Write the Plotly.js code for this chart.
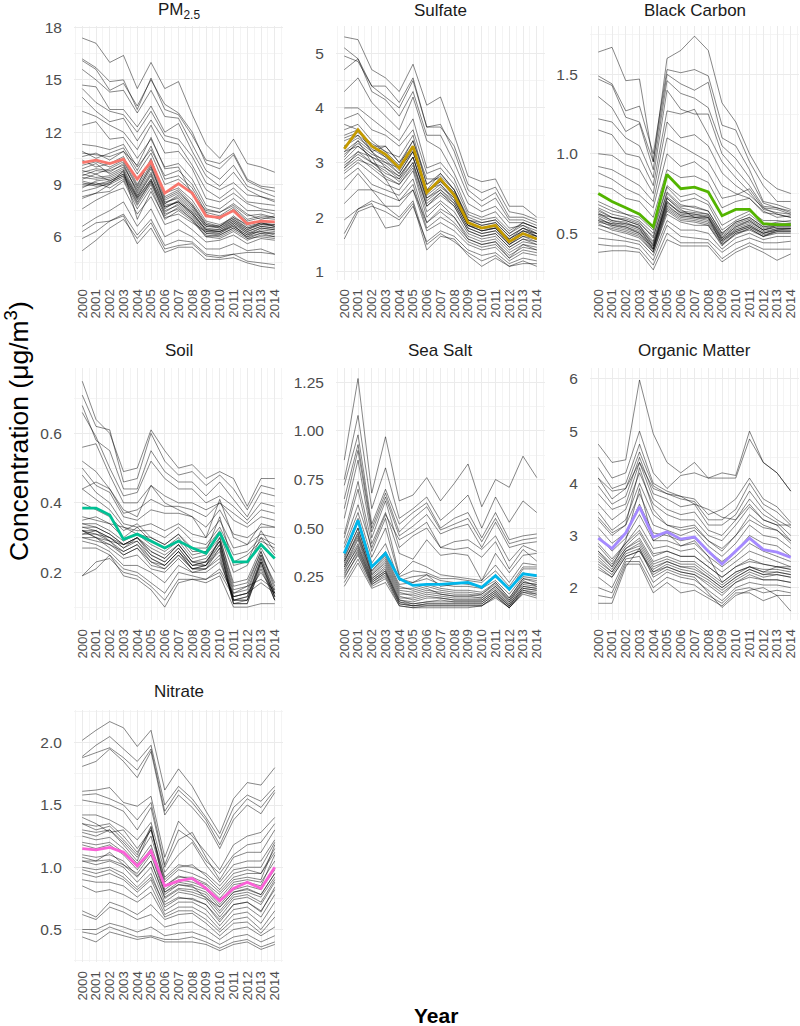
<!DOCTYPE html>
<html>
<head>
<meta charset="utf-8">
<script src="https://cdn.plot.ly/plotly-3.0.1.min.js"></script>
<style>
  html, body { margin: 0; padding: 0; background: #ffffff; }
  #chart { width: 800px; height: 1026px; }
</style>
</head>
<body>
<div id="chart"></div>
<script>
// ---------------- DATA ----------------
const years = [2000, 2001, 2002, 2003, 2004, 2005, 2006, 2007, 2008, 2009, 2010, 2011, 2012, 2013, 2014];
const yearLabels = years.map(String);

const panelNames = ["PM<sub>2.5</sub>", "Sulfate", "Black Carbon", "Soil", "Sea Salt", "Organic Matter", "Nitrate"];
const meanColors = ["#F8766D", "#C49A00", "#53B400", "#00C094", "#00B6EB", "#A58AFF", "#FB61D7"];

const pm25Mean = [10.25, 10.4, 10.2, 10.45, 9.3, 10.3, 8.5, 9.05, 8.5, 7.2, 7.1, 7.5, 6.75, 6.9, 6.85];
const pm25Sites = [
  [17.4, 17.1, 16.0, 16.4, 14.5, 16.0, 14.5, 14.9, 13.0, 11.3, 10.5, 11.6, 10.2, 10.0, 9.7],
  [16.2, 15.7, 14.9, 15.0, 13.3, 15.1, 13.3, 13.0, 11.8, 10.4, 10.2, 10.8, 9.3, 8.9, 8.8],
  [16.1, 15.6, 14.4, 14.8, 13.5, 15.0, 13.6, 13.1, 12.0, 10.2, 9.9, 10.7, 9.2, 8.8, 8.6],
  [15.6, 15.0, 14.3, 14.4, 13.1, 14.4, 12.9, 12.8, 11.3, 9.8, 9.3, 10.1, 8.9, 8.6, 8.3],
  [14.7, 14.6, 13.3, 13.3, 12.3, 13.5, 12.0, 12.5, 10.9, 9.5, 8.9, 9.7, 8.7, 8.3, 8.0],
  [14.5, 13.7, 13.2, 13.0, 12.0, 13.2, 11.8, 11.6, 10.6, 9.1, 8.7, 9.1, 8.4, 8.3, 8.1],
  [14.0, 13.2, 12.6, 12.8, 11.5, 12.7, 11.5, 11.3, 10.1, 8.7, 8.2, 8.8, 8.0, 7.9, 7.8],
  [13.2, 12.9, 12.4, 12.0, 11.0, 12.4, 10.8, 10.9, 9.9, 8.2, 8.0, 8.5, 7.9, 7.6, 7.5],
  [12.4, 12.6, 11.6, 11.7, 10.5, 11.6, 10.0, 10.2, 9.3, 7.8, 7.6, 8.2, 7.5, 7.5, 7.3],
  [11.3, 11.2, 11.0, 11.3, 10.0, 11.0, 9.5, 9.8, 9.0, 7.6, 7.4, 7.8, 7.2, 7.3, 7.1],
  [10.8, 10.7, 10.6, 10.9, 9.6, 10.8, 9.0, 9.3, 8.6, 7.3, 7.0, 7.6, 6.9, 7.1, 7.0],
  [10.4, 10.0, 10.2, 10.6, 9.0, 10.4, 8.5, 8.8, 8.1, 6.9, 6.7, 7.1, 6.7, 6.9, 6.8],
  [9.9, 10.2, 9.6, 10.0, 8.7, 10.0, 8.1, 8.5, 7.8, 6.7, 6.5, 7.0, 6.4, 6.8, 6.6],
  [9.6, 9.4, 9.5, 9.9, 8.4, 9.7, 7.9, 8.3, 7.6, 6.5, 6.4, 6.8, 6.3, 6.6, 6.5],
  [9.3, 9.6, 9.2, 9.6, 8.2, 9.3, 7.6, 8.1, 7.4, 6.4, 6.3, 6.6, 6.1, 6.5, 6.4],
  [9.1, 8.9, 9.0, 9.4, 8.0, 9.1, 7.4, 7.9, 7.2, 6.2, 6.1, 6.5, 6.0, 6.4, 6.3],
  [8.8, 9.2, 9.3, 9.7, 8.3, 9.5, 7.8, 8.0, 7.3, 6.3, 6.3, 6.8, 6.2, 6.3, 6.1],
  [9.0, 9.1, 8.8, 9.3, 7.8, 9.0, 7.2, 7.7, 7.0, 6.1, 6.0, 6.4, 5.9, 6.2, 6.0],
  [8.3, 8.5, 8.6, 9.2, 7.6, 8.8, 7.0, 7.5, 6.9, 6.0, 5.9, 6.3, 5.8, 6.1, 6.0],
  [7.6, 8.1, 8.5, 8.8, 7.3, 8.3, 6.7, 7.0, 6.4, 5.7, 5.8, 6.1, 5.6, 5.9, 5.8],
  [6.6, 7.1, 7.5, 8.0, 6.6, 7.6, 6.0, 6.4, 6.0, 5.3, 5.3, 5.6, 5.2, 5.3, 5.0],
  [6.3, 6.8, 6.9, 7.3, 6.1, 7.0, 5.5, 5.8, 5.7, 5.0, 4.9, 5.0, 4.6, 4.5, 4.4],
  [5.9, 6.3, 6.9, 7.2, 5.6, 6.5, 5.1, 5.4, 5.4, 4.7, 4.7, 4.8, 4.5, 4.3, 4.2],
  [5.2, 5.8, 6.5, 7.0, 5.9, 6.8, 5.3, 5.5, 5.6, 4.9, 4.8, 5.0, 5.1, 5.1, 5.0],
  [10.6, 10.8, 10.4, 10.9, 10.1, 11.7, 9.9, 10.0, 8.4, 7.5, 7.4, 7.9, 7.3, 7.0, 7.2],
  [8.2, 8.5, 9.0, 9.8, 7.0, 8.6, 7.1, 7.3, 6.8, 6.3, 6.2, 6.7, 5.9, 6.0, 5.9],
  [9.5, 9.8, 9.7, 10.2, 8.5, 9.9, 8.0, 8.2, 7.5, 6.6, 6.6, 7.0, 6.5, 6.7, 6.7],
  [10.1, 10.3, 10.0, 10.4, 8.9, 10.5, 8.3, 8.7, 7.9, 6.8, 6.6, 7.2, 6.6, 6.8, 6.7],
  [9.7, 9.9, 9.8, 10.1, 8.6, 10.1, 7.9, 8.4, 7.7, 6.6, 6.5, 6.9, 6.4, 6.7, 6.6],
  [9.4, 9.3, 9.4, 9.8, 8.3, 9.6, 7.7, 8.0, 7.4, 6.4, 6.3, 6.7, 6.2, 6.5, 6.4],
  [9.2, 9.0, 9.1, 9.5, 8.1, 9.2, 7.5, 7.8, 7.1, 6.2, 6.2, 6.6, 6.1, 6.3, 6.2],
  [8.9, 9.0, 9.2, 9.6, 8.2, 9.3, 7.7, 8.0, 7.3, 6.4, 6.4, 6.9, 6.3, 6.6, 6.5],
  [10.9, 10.5, 10.8, 11.1, 9.8, 11.2, 9.3, 9.5, 8.8, 7.4, 7.2, 7.7, 7.0, 7.2, 7.1],
  [8.6, 8.8, 9.1, 9.5, 7.9, 9.2, 7.3, 7.6, 7.0, 6.0, 6.1, 6.5, 6.0, 6.2, 6.2],
  [9.8, 9.6, 9.9, 10.3, 8.8, 10.2, 8.2, 8.6, 7.8, 6.7, 6.6, 7.1, 6.5, 6.8, 6.6]
];

const sulfateMean = [3.25, 3.6, 3.3, 3.15, 2.9, 3.3, 2.45, 2.7, 2.4, 1.9, 1.8, 1.85, 1.55, 1.7, 1.6];
const sulfateSites = [
  [5.3, 5.25, 4.7, 4.55, 4.3, 4.8, 4.05, 4.2, 3.5, 2.75, 2.65, 2.7, 2.2, 2.2, 2.0],
  [5.1, 4.9, 4.4, 4.4, 4.1, 4.55, 3.65, 3.65, 3.3, 2.6, 2.45, 2.55, 2.1, 2.05, 1.95],
  [4.95, 4.85, 4.4, 4.2, 4.0, 4.5, 3.65, 3.7, 3.2, 2.5, 2.3, 2.45, 2.0, 2.0, 1.9],
  [4.7, 4.9, 4.3, 4.15, 3.85, 4.3, 3.5, 3.5, 3.0, 2.4, 2.2, 2.35, 1.95, 1.95, 1.85],
  [4.3, 4.55, 4.1, 3.85, 3.6, 4.2, 3.4, 3.25, 2.8, 2.25, 2.1, 2.2, 1.9, 1.9, 1.8],
  [4.0, 4.0, 3.8, 3.6, 3.4, 3.8, 2.9, 3.0, 2.7, 2.1, 2.0, 2.1, 1.8, 1.85, 1.75],
  [3.8, 3.9, 3.6, 3.5, 3.3, 3.6, 2.8, 2.9, 2.6, 2.05, 1.95, 2.0, 1.75, 1.9, 1.8],
  [3.6, 3.7, 3.4, 3.2, 3.1, 3.5, 2.6, 2.8, 2.5, 2.0, 1.9, 1.95, 1.7, 1.85, 1.7],
  [3.4, 3.5, 3.3, 3.3, 3.0, 3.4, 2.7, 2.7, 2.45, 1.95, 1.85, 1.9, 1.65, 1.8, 1.65],
  [3.3, 3.5, 3.2, 3.0, 2.9, 3.3, 2.5, 2.65, 2.4, 1.9, 1.8, 1.85, 1.6, 1.75, 1.7],
  [3.2, 3.3, 3.1, 3.0, 2.8, 3.2, 2.4, 2.6, 2.3, 1.85, 1.8, 1.8, 1.55, 1.7, 1.65],
  [3.1, 3.4, 3.2, 2.9, 2.75, 3.1, 2.3, 2.5, 2.25, 1.8, 1.7, 1.75, 1.5, 1.65, 1.6],
  [3.0, 3.2, 3.0, 2.8, 2.7, 3.0, 2.2, 2.45, 2.2, 1.75, 1.65, 1.7, 1.45, 1.6, 1.55],
  [2.9, 3.1, 2.9, 2.7, 2.6, 2.9, 2.1, 2.3, 2.1, 1.7, 1.6, 1.65, 1.4, 1.55, 1.5],
  [2.8, 3.0, 2.8, 2.6, 2.5, 2.85, 2.0, 2.25, 2.0, 1.65, 1.55, 1.6, 1.35, 1.5, 1.45],
  [2.7, 2.9, 2.6, 2.5, 2.4, 2.7, 1.9, 2.1, 1.9, 1.6, 1.5, 1.55, 1.3, 1.45, 1.4],
  [2.5, 2.8, 2.5, 2.4, 2.3, 2.6, 1.8, 2.0, 1.85, 1.55, 1.45, 1.5, 1.25, 1.4, 1.35],
  [2.25, 2.5, 2.5, 2.2, 2.2, 2.5, 1.75, 1.9, 1.75, 1.5, 1.4, 1.45, 1.2, 1.35, 1.3],
  [1.95, 2.15, 2.25, 1.8, 1.85, 2.2, 1.55, 1.75, 1.65, 1.4, 1.3, 1.35, 1.15, 1.25, 1.2],
  [1.6, 2.1, 2.2, 2.1, 1.95, 2.25, 1.4, 1.65, 1.6, 1.3, 1.1, 1.25, 1.1, 1.2, 1.1],
  [1.7, 2.15, 2.3, 2.2, 2.0, 2.3, 1.5, 1.7, 1.55, 1.35, 1.2, 1.3, 1.1, 1.15, 1.15],
  [3.7, 3.6, 3.2, 3.3, 3.0, 3.3, 2.5, 2.8, 2.5, 1.95, 1.9, 1.95, 1.7, 1.9, 1.8],
  [3.5, 3.6, 3.3, 3.1, 2.9, 3.2, 2.45, 2.7, 2.45, 1.9, 1.8, 1.85, 1.6, 1.8, 1.7],
  [3.2, 3.4, 3.0, 2.9, 2.7, 3.1, 2.35, 2.55, 2.35, 1.85, 1.75, 1.8, 1.55, 1.75, 1.65],
  [2.9, 3.2, 3.1, 2.7, 2.3, 2.5, 1.9, 2.15, 2.0, 1.6, 1.5, 1.55, 1.25, 1.5, 1.4],
  [3.3, 3.45, 3.25, 3.1, 2.85, 3.25, 2.45, 2.65, 2.4, 1.9, 1.8, 1.85, 1.6, 1.75, 1.65],
  [3.05, 3.3, 3.1, 2.95, 2.75, 3.1, 2.35, 2.5, 2.3, 1.85, 1.75, 1.8, 1.55, 1.7, 1.6],
  [2.95, 3.15, 3.0, 2.85, 2.65, 3.0, 2.25, 2.45, 2.25, 1.8, 1.7, 1.75, 1.5, 1.65, 1.55],
  [3.15, 3.35, 3.15, 3.05, 2.8, 3.2, 2.5, 2.6, 2.35, 1.85, 1.75, 1.8, 1.5, 1.7, 1.6],
  [2.85, 3.05, 2.95, 2.75, 2.6, 2.95, 2.2, 2.4, 2.2, 1.75, 1.65, 1.7, 1.45, 1.6, 1.5],
  [3.45, 3.55, 3.35, 3.2, 2.95, 3.4, 2.6, 2.75, 2.5, 1.95, 1.85, 1.9, 1.65, 1.8, 1.7]
];

const bcMean = [0.75, 0.70, 0.66, 0.62, 0.54, 0.87, 0.78, 0.79, 0.76, 0.61, 0.65, 0.65, 0.56, 0.555, 0.555];
const bcSites = [
  [1.64, 1.67, 1.46, 1.47, 0.95, 1.60, 1.65, 1.74, 1.65, 1.32, 1.20, 1.00, 0.85, 0.78, 0.75],
  [1.49, 1.44, 1.27, 1.30, 1.00, 1.53, 1.51, 1.53, 1.49, 1.18, 1.15, 0.95, 0.80, 0.70, 0.70],
  [1.47, 1.43, 1.23, 1.20, 0.95, 1.50, 1.44, 1.40, 1.45, 1.10, 1.05, 0.90, 0.70, 0.68, 0.65],
  [1.36, 1.29, 1.14, 1.19, 0.90, 1.46, 1.38, 1.35, 1.29, 1.05, 0.97, 0.85, 0.69, 0.66, 0.63],
  [1.22, 1.20, 1.10, 1.05, 0.85, 1.40, 1.28, 1.25, 1.25, 1.00, 0.90, 0.80, 0.67, 0.66, 0.64],
  [1.15, 1.12, 1.00, 0.98, 0.80, 1.27, 1.25, 1.28, 1.12, 0.95, 0.85, 0.76, 0.65, 0.63, 0.62],
  [1.00, 0.99, 0.93, 0.90, 0.75, 1.20, 1.10, 1.12, 1.05, 0.88, 0.80, 0.74, 0.66, 0.62, 0.60],
  [0.92, 0.90, 0.85, 0.80, 0.70, 1.10, 1.05, 1.00, 0.95, 0.80, 0.75, 0.72, 0.64, 0.60, 0.61],
  [0.88, 0.84, 0.78, 0.74, 0.66, 1.00, 0.92, 0.95, 0.88, 0.72, 0.74, 0.78, 0.66, 0.65, 0.62],
  [0.80, 0.78, 0.72, 0.70, 0.60, 0.90, 0.85, 0.86, 0.82, 0.66, 0.70, 0.72, 0.63, 0.62, 0.60],
  [0.68, 0.64, 0.62, 0.60, 0.52, 0.80, 0.73, 0.75, 0.70, 0.55, 0.60, 0.64, 0.58, 0.58, 0.57],
  [0.65, 0.60, 0.59, 0.56, 0.48, 0.75, 0.67, 0.67, 0.64, 0.50, 0.57, 0.60, 0.54, 0.55, 0.55],
  [0.63, 0.58, 0.56, 0.54, 0.44, 0.72, 0.64, 0.63, 0.62, 0.48, 0.55, 0.58, 0.52, 0.54, 0.54],
  [0.61, 0.57, 0.55, 0.52, 0.42, 0.70, 0.62, 0.61, 0.60, 0.46, 0.53, 0.56, 0.51, 0.53, 0.53],
  [0.60, 0.55, 0.54, 0.50, 0.40, 0.67, 0.61, 0.60, 0.58, 0.45, 0.52, 0.55, 0.50, 0.52, 0.52],
  [0.58, 0.54, 0.52, 0.49, 0.39, 0.65, 0.59, 0.58, 0.56, 0.44, 0.51, 0.54, 0.49, 0.51, 0.51],
  [0.56, 0.52, 0.50, 0.47, 0.38, 0.62, 0.57, 0.55, 0.55, 0.42, 0.50, 0.53, 0.48, 0.50, 0.50],
  [0.53, 0.50, 0.47, 0.45, 0.36, 0.58, 0.52, 0.52, 0.50, 0.40, 0.47, 0.50, 0.46, 0.48, 0.48],
  [0.47, 0.46, 0.45, 0.43, 0.33, 0.55, 0.48, 0.47, 0.46, 0.38, 0.44, 0.47, 0.44, 0.44, 0.45],
  [0.43, 0.42, 0.42, 0.40, 0.30, 0.50, 0.44, 0.44, 0.44, 0.34, 0.40, 0.44, 0.40, 0.40, 0.40],
  [0.38, 0.39, 0.39, 0.38, 0.27, 0.46, 0.42, 0.42, 0.42, 0.32, 0.38, 0.42, 0.38, 0.33, 0.37],
  [0.62, 0.60, 0.58, 0.55, 0.42, 0.69, 0.63, 0.62, 0.60, 0.47, 0.54, 0.58, 0.52, 0.55, 0.56],
  [0.58, 0.56, 0.56, 0.53, 0.40, 0.72, 0.65, 0.60, 0.60, 0.43, 0.50, 0.52, 0.48, 0.52, 0.53],
  [0.70, 0.66, 0.62, 0.58, 0.50, 0.79, 0.70, 0.72, 0.68, 0.52, 0.58, 0.62, 0.55, 0.57, 0.58],
  [0.64, 0.60, 0.58, 0.55, 0.45, 0.73, 0.66, 0.64, 0.62, 0.49, 0.56, 0.59, 0.53, 0.55, 0.55],
  [0.62, 0.58, 0.57, 0.53, 0.43, 0.70, 0.63, 0.62, 0.61, 0.47, 0.54, 0.57, 0.52, 0.54, 0.54],
  [0.59, 0.56, 0.54, 0.51, 0.41, 0.68, 0.61, 0.60, 0.59, 0.46, 0.52, 0.55, 0.50, 0.53, 0.53],
  [0.57, 0.55, 0.53, 0.50, 0.40, 0.66, 0.60, 0.59, 0.57, 0.45, 0.51, 0.54, 0.50, 0.52, 0.52],
  [0.66, 0.62, 0.60, 0.57, 0.47, 0.76, 0.68, 0.66, 0.64, 0.50, 0.57, 0.60, 0.54, 0.56, 0.56],
  [0.55, 0.53, 0.51, 0.48, 0.38, 0.64, 0.58, 0.57, 0.55, 0.43, 0.49, 0.53, 0.48, 0.51, 0.51]
];

const soilMean = [0.385, 0.385, 0.365, 0.295, 0.31, 0.29, 0.27, 0.29, 0.27, 0.255, 0.315, 0.23, 0.23, 0.28, 0.24];
const soilSites = [
  [0.75, 0.64, 0.60, 0.49, 0.50, 0.61, 0.55, 0.50, 0.51, 0.47, 0.49, 0.47, 0.39, 0.47, 0.47],
  [0.71, 0.62, 0.61, 0.46, 0.47, 0.60, 0.52, 0.48, 0.49, 0.45, 0.48, 0.44, 0.38, 0.45, 0.44],
  [0.68, 0.58, 0.55, 0.44, 0.44, 0.55, 0.49, 0.46, 0.46, 0.42, 0.46, 0.41, 0.36, 0.43, 0.42],
  [0.66, 0.59, 0.50, 0.42, 0.43, 0.52, 0.47, 0.44, 0.44, 0.40, 0.42, 0.39, 0.35, 0.40, 0.39],
  [0.56, 0.57, 0.48, 0.40, 0.40, 0.45, 0.42, 0.40, 0.40, 0.38, 0.40, 0.37, 0.34, 0.38, 0.37],
  [0.52, 0.49, 0.44, 0.37, 0.38, 0.41, 0.39, 0.39, 0.38, 0.36, 0.40, 0.35, 0.33, 0.36, 0.35],
  [0.50, 0.45, 0.43, 0.36, 0.35, 0.38, 0.37, 0.37, 0.36, 0.33, 0.38, 0.31, 0.30, 0.33, 0.33],
  [0.48, 0.43, 0.40, 0.34, 0.33, 0.34, 0.32, 0.34, 0.31, 0.30, 0.35, 0.27, 0.28, 0.31, 0.30],
  [0.44, 0.41, 0.38, 0.33, 0.32, 0.32, 0.30, 0.33, 0.29, 0.28, 0.33, 0.25, 0.26, 0.30, 0.28],
  [0.40, 0.38, 0.36, 0.32, 0.34, 0.30, 0.28, 0.31, 0.27, 0.27, 0.32, 0.23, 0.25, 0.29, 0.27],
  [0.36, 0.35, 0.34, 0.30, 0.33, 0.29, 0.27, 0.30, 0.25, 0.26, 0.31, 0.20, 0.22, 0.30, 0.25],
  [0.34, 0.34, 0.32, 0.29, 0.31, 0.28, 0.26, 0.29, 0.24, 0.25, 0.30, 0.17, 0.18, 0.27, 0.20],
  [0.33, 0.33, 0.31, 0.28, 0.30, 0.26, 0.24, 0.28, 0.23, 0.24, 0.29, 0.14, 0.15, 0.25, 0.17],
  [0.32, 0.32, 0.30, 0.27, 0.29, 0.25, 0.23, 0.27, 0.22, 0.23, 0.28, 0.12, 0.13, 0.24, 0.14],
  [0.31, 0.31, 0.29, 0.26, 0.28, 0.24, 0.22, 0.26, 0.21, 0.22, 0.27, 0.11, 0.12, 0.23, 0.13],
  [0.30, 0.30, 0.28, 0.25, 0.27, 0.22, 0.21, 0.25, 0.21, 0.21, 0.25, 0.11, 0.11, 0.22, 0.12],
  [0.32, 0.30, 0.27, 0.24, 0.25, 0.21, 0.20, 0.24, 0.20, 0.21, 0.24, 0.12, 0.12, 0.21, 0.12],
  [0.29, 0.28, 0.26, 0.22, 0.22, 0.20, 0.17, 0.22, 0.20, 0.20, 0.23, 0.13, 0.14, 0.20, 0.14],
  [0.27, 0.27, 0.25, 0.21, 0.20, 0.17, 0.14, 0.20, 0.19, 0.18, 0.21, 0.14, 0.16, 0.18, 0.15],
  [0.19, 0.21, 0.25, 0.19, 0.18, 0.15, 0.10, 0.17, 0.18, 0.18, 0.20, 0.13, 0.14, 0.17, 0.14],
  [0.19, 0.23, 0.24, 0.20, 0.19, 0.16, 0.12, 0.18, 0.18, 0.17, 0.19, 0.10, 0.10, 0.11, 0.11],
  [0.44, 0.46, 0.44, 0.38, 0.36, 0.45, 0.40, 0.38, 0.36, 0.30, 0.41, 0.30, 0.28, 0.34, 0.33],
  [0.35, 0.36, 0.34, 0.33, 0.31, 0.30, 0.28, 0.31, 0.26, 0.26, 0.36, 0.22, 0.23, 0.32, 0.26],
  [0.32, 0.31, 0.30, 0.28, 0.30, 0.27, 0.25, 0.28, 0.23, 0.22, 0.30, 0.16, 0.17, 0.26, 0.15],
  [0.33, 0.32, 0.30, 0.27, 0.30, 0.25, 0.23, 0.27, 0.22, 0.23, 0.29, 0.13, 0.14, 0.25, 0.14],
  [0.31, 0.32, 0.29, 0.28, 0.29, 0.24, 0.22, 0.26, 0.21, 0.22, 0.28, 0.12, 0.12, 0.24, 0.13],
  [0.30, 0.29, 0.28, 0.26, 0.28, 0.23, 0.21, 0.25, 0.21, 0.21, 0.27, 0.11, 0.11, 0.23, 0.12],
  [0.34, 0.33, 0.31, 0.28, 0.30, 0.26, 0.24, 0.28, 0.23, 0.23, 0.29, 0.15, 0.16, 0.26, 0.16],
  [0.32, 0.30, 0.29, 0.25, 0.27, 0.23, 0.22, 0.26, 0.22, 0.22, 0.26, 0.12, 0.13, 0.23, 0.13]
];

const seaSaltMean = [0.37, 0.54, 0.30, 0.37, 0.24, 0.205, 0.21, 0.21, 0.215, 0.22, 0.195, 0.255, 0.185, 0.265, 0.255];
const seaSaltSites = [
  [0.85, 1.27, 0.68, 0.97, 0.64, 0.67, 0.76, 0.64, 0.73, 0.83, 0.61, 0.75, 0.71, 0.87, 0.76],
  [0.75, 1.08, 0.60, 0.81, 0.55, 0.60, 0.66, 0.54, 0.60, 0.67, 0.50, 0.66, 0.53, 0.64, 0.58],
  [0.72, 0.98, 0.52, 0.70, 0.52, 0.58, 0.63, 0.50, 0.55, 0.58, 0.45, 0.58, 0.44, 0.46, 0.47],
  [0.65, 0.93, 0.50, 0.68, 0.48, 0.55, 0.61, 0.49, 0.52, 0.55, 0.43, 0.55, 0.42, 0.44, 0.45],
  [0.60, 0.90, 0.48, 0.66, 0.46, 0.51, 0.57, 0.47, 0.50, 0.52, 0.40, 0.53, 0.40, 0.42, 0.43],
  [0.55, 0.85, 0.45, 0.64, 0.40, 0.46, 0.50, 0.40, 0.43, 0.44, 0.39, 0.46, 0.33, 0.41, 0.38],
  [0.47, 0.74, 0.42, 0.58, 0.37, 0.34, 0.44, 0.36, 0.37, 0.36, 0.23, 0.37, 0.27, 0.36, 0.37],
  [0.45, 0.70, 0.38, 0.55, 0.26, 0.33, 0.30, 0.26, 0.25, 0.24, 0.23, 0.31, 0.22, 0.32, 0.31],
  [0.40, 0.58, 0.35, 0.50, 0.25, 0.28, 0.27, 0.24, 0.24, 0.23, 0.22, 0.28, 0.20, 0.30, 0.30],
  [0.37, 0.55, 0.32, 0.42, 0.23, 0.25, 0.26, 0.23, 0.22, 0.21, 0.20, 0.25, 0.18, 0.27, 0.25],
  [0.34, 0.50, 0.28, 0.36, 0.21, 0.22, 0.24, 0.21, 0.20, 0.20, 0.19, 0.23, 0.16, 0.25, 0.24],
  [0.33, 0.47, 0.27, 0.34, 0.19, 0.19, 0.21, 0.19, 0.18, 0.18, 0.17, 0.22, 0.14, 0.24, 0.22],
  [0.31, 0.45, 0.25, 0.31, 0.16, 0.16, 0.18, 0.17, 0.16, 0.16, 0.15, 0.20, 0.13, 0.22, 0.21],
  [0.30, 0.42, 0.24, 0.29, 0.14, 0.14, 0.16, 0.15, 0.14, 0.14, 0.14, 0.19, 0.12, 0.21, 0.20],
  [0.29, 0.40, 0.23, 0.28, 0.13, 0.12, 0.14, 0.14, 0.13, 0.13, 0.13, 0.18, 0.11, 0.20, 0.19],
  [0.27, 0.38, 0.22, 0.27, 0.12, 0.11, 0.12, 0.13, 0.12, 0.12, 0.12, 0.17, 0.10, 0.19, 0.18],
  [0.25, 0.36, 0.21, 0.26, 0.11, 0.10, 0.11, 0.11, 0.11, 0.11, 0.11, 0.16, 0.10, 0.18, 0.16],
  [0.22, 0.34, 0.20, 0.24, 0.10, 0.09, 0.10, 0.10, 0.10, 0.10, 0.10, 0.15, 0.09, 0.17, 0.15],
  [0.20, 0.32, 0.19, 0.22, 0.10, 0.09, 0.09, 0.09, 0.09, 0.09, 0.10, 0.14, 0.09, 0.16, 0.14],
  [0.42, 0.62, 0.40, 0.57, 0.44, 0.48, 0.53, 0.40, 0.39, 0.40, 0.35, 0.43, 0.29, 0.39, 0.33],
  [0.36, 0.53, 0.30, 0.38, 0.24, 0.22, 0.26, 0.20, 0.21, 0.22, 0.19, 0.25, 0.18, 0.29, 0.29],
  [0.32, 0.48, 0.26, 0.33, 0.18, 0.17, 0.19, 0.16, 0.15, 0.15, 0.16, 0.21, 0.13, 0.23, 0.20],
  [0.30, 0.44, 0.24, 0.30, 0.15, 0.13, 0.15, 0.14, 0.13, 0.13, 0.13, 0.18, 0.11, 0.20, 0.19],
  [0.28, 0.41, 0.23, 0.28, 0.13, 0.11, 0.12, 0.12, 0.12, 0.12, 0.12, 0.17, 0.10, 0.19, 0.18],
  [0.26, 0.39, 0.22, 0.27, 0.12, 0.10, 0.11, 0.11, 0.11, 0.11, 0.11, 0.16, 0.09, 0.18, 0.17],
  [0.33, 0.46, 0.26, 0.32, 0.17, 0.15, 0.17, 0.16, 0.15, 0.15, 0.14, 0.20, 0.12, 0.22, 0.21],
  [0.24, 0.37, 0.21, 0.25, 0.11, 0.10, 0.10, 0.10, 0.10, 0.10, 0.10, 0.15, 0.09, 0.17, 0.16],
  [0.35, 0.50, 0.28, 0.35, 0.20, 0.18, 0.20, 0.18, 0.17, 0.17, 0.16, 0.22, 0.14, 0.24, 0.23]
];

const omMean = [2.95, 2.75, 3.05, 3.55, 2.97, 3.07, 2.93, 2.97, 2.7, 2.45, 2.7, 2.95, 2.73, 2.68, 2.58];
const omSites = [
  [4.75, 4.4, 4.45, 5.98, 4.95, 4.4, 4.2, 4.4, 4.1, 4.2, 4.15, 5.0, 4.4, 4.2, 3.85],
  [4.5, 4.1, 4.2, 5.0, 4.2, 3.9, 4.15, 4.2, 4.1, 4.1, 4.1, 4.85, 4.4, 4.2, 3.85],
  [4.3, 3.9, 4.0, 4.75, 4.0, 3.85, 3.75, 3.7, 3.4, 3.5, 3.7, 4.1, 3.7, 3.55, 3.25],
  [4.1, 3.7, 3.9, 4.6, 3.95, 3.8, 3.7, 3.65, 3.3, 3.3, 3.5, 4.0, 3.6, 3.45, 3.2],
  [3.95, 3.6, 3.75, 4.5, 3.8, 3.7, 3.55, 3.6, 3.2, 3.2, 3.4, 3.85, 3.5, 3.3, 3.15],
  [3.8, 3.5, 3.6, 4.4, 3.7, 3.5, 3.4, 3.45, 3.1, 3.0, 3.3, 3.7, 3.4, 3.25, 3.0],
  [3.6, 3.3, 3.5, 4.2, 3.6, 3.4, 3.3, 3.3, 3.0, 2.9, 3.2, 3.55, 3.3, 3.2, 2.9],
  [3.45, 3.1, 3.3, 4.0, 3.4, 3.2, 3.15, 3.2, 2.9, 2.75, 3.0, 3.3, 3.15, 3.1, 2.85],
  [3.3, 3.0, 3.2, 3.8, 3.2, 3.1, 3.0, 3.1, 2.8, 2.6, 2.85, 3.2, 3.0, 2.95, 2.75],
  [3.15, 2.85, 3.05, 3.6, 3.05, 3.0, 2.9, 2.95, 2.7, 2.5, 2.7, 3.0, 2.85, 2.8, 2.6],
  [3.0, 2.7, 2.95, 3.4, 2.9, 2.9, 2.8, 2.85, 2.6, 2.4, 2.6, 2.85, 2.7, 2.6, 2.5],
  [2.85, 2.55, 2.85, 3.2, 2.75, 2.8, 2.7, 2.75, 2.5, 2.3, 2.5, 2.7, 2.6, 2.5, 2.4],
  [2.7, 2.45, 2.8, 3.05, 2.6, 2.7, 2.6, 2.6, 2.4, 2.2, 2.4, 2.55, 2.45, 2.4, 2.35],
  [2.6, 2.35, 2.75, 2.95, 2.5, 2.6, 2.5, 2.5, 2.3, 2.1, 2.3, 2.4, 2.35, 2.35, 2.3],
  [2.55, 2.3, 2.7, 2.85, 2.4, 2.5, 2.4, 2.4, 2.2, 2.0, 2.2, 2.35, 2.25, 2.3, 2.25],
  [2.45, 2.25, 2.65, 2.75, 2.3, 2.45, 2.35, 2.3, 2.15, 1.95, 2.15, 2.3, 2.2, 2.25, 2.2],
  [2.35, 2.2, 2.6, 2.7, 2.25, 2.4, 2.3, 2.25, 2.05, 1.85, 2.1, 2.2, 2.15, 2.15, 2.1],
  [2.2, 2.0, 2.55, 2.6, 2.1, 2.3, 2.2, 2.15, 1.95, 1.75, 2.0, 2.1, 2.05, 2.05, 2.0],
  [2.0, 1.9, 2.5, 2.5, 2.0, 2.2, 2.1, 2.05, 1.85, 1.7, 1.95, 2.0, 1.9, 1.95, 1.9],
  [1.85, 1.8, 2.45, 2.45, 1.9, 2.1, 1.9, 1.95, 1.8, 1.65, 1.9, 1.9, 1.75, 1.85, 1.55],
  [1.7, 1.7, 2.4, 2.75, 2.2, 2.35, 2.25, 2.2, 1.9, 1.62, 1.85, 1.95, 2.0, 1.85, 1.85],
  [4.1, 3.85, 3.9, 4.4, 3.9, 3.8, 3.75, 3.6, 3.5, 3.35, 3.3, 3.6, 3.3, 3.2, 3.2],
  [2.7, 2.4, 2.9, 3.9, 2.9, 3.05, 2.8, 2.9, 2.6, 2.1, 2.3, 2.4, 2.3, 2.4, 2.4],
  [2.65, 2.4, 2.75, 2.9, 2.45, 2.55, 2.45, 2.45, 2.25, 2.05, 2.25, 2.4, 2.3, 2.3, 2.25],
  [2.5, 2.3, 2.7, 2.8, 2.35, 2.5, 2.4, 2.35, 2.2, 2.0, 2.2, 2.35, 2.25, 2.25, 2.2],
  [2.8, 2.5, 2.85, 3.1, 2.65, 2.7, 2.6, 2.6, 2.4, 2.2, 2.4, 2.5, 2.45, 2.4, 2.35],
  [3.35, 3.05, 3.2, 4.3, 3.5, 3.2, 3.1, 3.15, 2.9, 2.7, 3.0, 3.4, 3.2, 3.1, 2.9],
  [2.4, 2.2, 2.6, 2.7, 2.3, 2.4, 2.3, 2.25, 2.1, 1.9, 2.1, 2.25, 2.15, 2.15, 2.1]
];

const nitrateMean = [1.15, 1.14, 1.16, 1.12, 1.01, 1.13, 0.85, 0.89, 0.91, 0.83, 0.73, 0.83, 0.88, 0.83, 1.0];
const nitrateSites = [
  [2.02, 2.10, 2.17, 2.12, 1.97, 2.10, 1.62, 1.79, 1.65, 1.45, 1.27, 1.55, 1.68, 1.66, 1.80],
  [1.89, 1.98, 2.05, 1.95, 1.85, 1.98, 1.50, 1.65, 1.55, 1.40, 1.23, 1.48, 1.58, 1.53, 1.65],
  [1.88, 1.92, 1.96, 1.88, 1.78, 1.95, 1.45, 1.62, 1.52, 1.38, 1.18, 1.42, 1.55, 1.48, 1.62],
  [1.81, 1.85, 1.95, 1.85, 1.72, 1.93, 1.42, 1.58, 1.48, 1.35, 1.15, 1.38, 1.50, 1.43, 1.60],
  [1.61, 1.62, 1.64, 1.52, 1.49, 1.57, 1.08, 1.37, 1.25, 1.12, 0.98, 1.18, 1.25, 1.28, 1.40],
  [1.58, 1.59, 1.55, 1.50, 1.38, 1.52, 1.02, 1.30, 1.22, 1.05, 0.95, 1.10, 1.18, 1.20, 1.35],
  [1.54, 1.52, 1.50, 1.45, 1.30, 1.48, 1.00, 1.22, 1.28, 1.08, 0.90, 1.08, 1.12, 1.12, 1.30],
  [1.42, 1.42, 1.38, 1.32, 1.22, 1.36, 0.96, 1.10, 1.20, 1.02, 0.88, 1.02, 1.05, 1.05, 1.22],
  [1.35, 1.33, 1.35, 1.25, 1.12, 1.30, 0.92, 1.02, 1.00, 0.95, 0.85, 0.98, 1.00, 1.00, 1.20],
  [1.30, 1.28, 1.30, 1.20, 1.08, 1.25, 0.88, 0.98, 0.95, 0.90, 0.80, 0.92, 0.95, 0.95, 1.12],
  [1.25, 1.22, 1.24, 1.15, 1.03, 1.18, 0.85, 0.93, 0.90, 0.86, 0.75, 0.88, 0.90, 0.88, 1.05],
  [1.18, 1.15, 1.18, 1.10, 0.98, 1.12, 0.80, 0.88, 0.86, 0.82, 0.70, 0.82, 0.85, 0.82, 0.98],
  [1.10, 1.08, 1.10, 1.05, 0.93, 1.05, 0.76, 0.83, 0.82, 0.78, 0.65, 0.78, 0.80, 0.76, 0.92],
  [1.05, 1.02, 1.05, 1.00, 0.88, 1.00, 0.72, 0.80, 0.78, 0.74, 0.60, 0.74, 0.76, 0.70, 0.88],
  [1.00, 0.98, 1.00, 0.95, 0.84, 0.95, 0.68, 0.75, 0.75, 0.70, 0.56, 0.70, 0.72, 0.65, 0.82],
  [0.95, 0.92, 0.95, 0.90, 0.80, 0.90, 0.65, 0.72, 0.72, 0.66, 0.53, 0.66, 0.68, 0.60, 0.78],
  [0.90, 0.88, 0.88, 0.85, 0.76, 0.85, 0.62, 0.68, 0.68, 0.62, 0.50, 0.62, 0.64, 0.55, 0.72],
  [0.85, 0.80, 0.82, 0.78, 0.72, 0.80, 0.60, 0.65, 0.65, 0.58, 0.48, 0.58, 0.60, 0.50, 0.65],
  [0.65, 0.60, 0.72, 0.68, 0.62, 0.70, 0.58, 0.62, 0.63, 0.55, 0.45, 0.55, 0.56, 0.47, 0.60],
  [0.62, 0.58, 0.68, 0.64, 0.58, 0.62, 0.52, 0.55, 0.56, 0.50, 0.42, 0.50, 0.52, 0.45, 0.52],
  [0.50, 0.50, 0.55, 0.52, 0.48, 0.52, 0.45, 0.47, 0.48, 0.44, 0.38, 0.44, 0.46, 0.40, 0.45],
  [0.48, 0.46, 0.52, 0.48, 0.44, 0.45, 0.42, 0.42, 0.44, 0.40, 0.35, 0.40, 0.42, 0.36, 0.40],
  [0.44, 0.40, 0.48, 0.45, 0.42, 0.44, 0.40, 0.40, 0.40, 0.38, 0.33, 0.38, 0.40, 0.34, 0.38],
  [1.08, 1.05, 1.12, 1.02, 0.95, 1.10, 0.78, 0.86, 0.85, 0.75, 0.68, 0.80, 0.82, 0.78, 0.95],
  [1.40, 1.35, 1.28, 1.30, 1.15, 1.30, 0.90, 1.00, 1.02, 0.93, 0.82, 0.95, 0.98, 0.95, 1.15],
  [1.28, 1.25, 1.30, 1.18, 1.05, 1.32, 0.82, 0.90, 0.88, 0.84, 0.72, 0.86, 0.88, 0.85, 1.10],
  [1.05, 1.05, 1.06, 1.02, 0.92, 1.05, 0.75, 0.82, 0.80, 0.76, 0.63, 0.76, 0.78, 0.72, 0.90],
  [1.20, 1.18, 1.20, 1.12, 1.00, 1.15, 0.80, 0.86, 0.84, 0.80, 0.68, 0.80, 0.83, 0.78, 0.95],
  [0.98, 0.95, 0.98, 0.92, 0.82, 0.92, 0.70, 0.76, 0.74, 0.70, 0.58, 0.70, 0.72, 0.64, 0.84],
  [1.35, 1.30, 1.33, 1.22, 1.10, 1.33, 0.85, 0.92, 0.92, 0.87, 0.78, 0.90, 0.92, 0.90, 1.18]
];

const allSites = [pm25Sites, sulfateSites, bcSites, soilSites, seaSaltSites, omSites, nitrateSites];
const allMeans = [pm25Mean, sulfateMean, bcMean, soilMean, seaSaltMean, omMean, nitrateMean];

// ---------------- LAYOUT (styles/positions) ----------------
const W = 800, H = 1026;
const colPx = [[74, 283], [336, 545], [590, 799]];
const rowPx = [[26, 280], [368, 620], [710, 962]];
const yRanges = [[3.52, 18.09], [0.85, 5.5], [0.206, 1.804], [0.063, 0.788], [0.027, 1.324], [1.38, 6.21], [0.239, 2.263]];
const yDticks = [3, 1, 0.5, 0.2, 0.25, 1, 0.5];
const yFormats = ["d", "d", ".1f", ".1f", ".2f", "d", ".1f"];
const titleY = [11, 11, 11, 351, 351, 351, 691];

const FONT = "Liberation Sans, Arial, Helvetica, sans-serif";
const traces = [];
const layout = {
  width: W, height: H,
  margin: {l: 0, r: 0, t: 0, b: 0},
  paper_bgcolor: "#ffffff",
  plot_bgcolor: "#ffffff",
  showlegend: false,
  font: {family: FONT, color: "#4D4D4D"},
  annotations: []
};

for (let p = 0; p < 7; p++) {
  const col = p % 3, row = Math.floor(p / 3);
  const sfx = p === 0 ? "" : String(p + 1);
  const xa = "x" + sfx, ya = "y" + sfx;

  allSites[p].forEach(function (vals) {
    traces.push({
      x: years, y: vals, xaxis: xa, yaxis: ya,
      type: "scatter", mode: "lines",
      line: {color: "rgba(0,0,0,0.47)", width: 1.0},
      hoverinfo: "skip"
    });
  });
  traces.push({
    x: years, y: allMeans[p], xaxis: xa, yaxis: ya,
    type: "scatter", mode: "lines",
    line: {color: meanColors[p], width: 2.8},
    hoverinfo: "skip"
  });

  layout["xaxis" + sfx] = {
    domain: [colPx[col][0] / W, colPx[col][1] / W],
    anchor: ya,
    range: [1999.4, 2014.6],
    tickmode: "array", tickvals: years, ticktext: yearLabels,
    tickangle: -90,
    tickfont: {size: 13.2, color: "#4D4D4D", family: FONT},
    ticks: "outside", ticklen: 3, tickcolor: "rgba(0,0,0,0)",
    showgrid: true, gridcolor: "#EBEBEB", gridwidth: 1,
    minor: {dtick: 0.5, tick0: 1999.5, showgrid: true, gridcolor: "#F1F1F1", gridwidth: 0.8, ticks: ""},
    zeroline: false, showline: false, fixedrange: true
  };
  layout["yaxis" + sfx] = {
    domain: [1 - rowPx[row][1] / H, 1 - rowPx[row][0] / H],
    anchor: xa,
    range: yRanges[p],
    dtick: yDticks[p], tick0: 0,
    tickformat: yFormats[p],
    tickfont: {size: 15.5, color: "#4D4D4D", family: FONT},
    ticks: "outside", ticklen: 8, tickcolor: "rgba(0,0,0,0)",
    showgrid: true, gridcolor: "#EBEBEB", gridwidth: 1,
    minor: {dtick: yDticks[p] / 2, tick0: 0, showgrid: true, gridcolor: "#F1F1F1", gridwidth: 0.8, ticks: ""},
    zeroline: false, showline: false, fixedrange: true
  };

  layout.annotations.push({
    text: panelNames[p],
    xref: "paper", yref: "paper",
    x: (colPx[col][0] + colPx[col][1]) / 2 / W,
    y: 1 - titleY[p] / H,
    xanchor: "center", yanchor: "middle",
    showarrow: false,
    font: {size: 17, color: "#1A1A1A", family: FONT}
  });
}

layout.annotations.push({
  text: "Concentration (μg/m<sup>3</sup>)",
  xref: "paper", yref: "paper",
  x: 17 / W, y: 1 - 431 / H,
  xanchor: "center", yanchor: "middle",
  textangle: -90, showarrow: false,
  font: {size: 26.5, color: "#000000", family: FONT}
});
layout.annotations.push({
  text: "<b>Year</b>",
  xref: "paper", yref: "paper",
  x: 436 / W, y: 1 - 1015 / H,
  xanchor: "center", yanchor: "middle",
  showarrow: false,
  font: {size: 21, color: "#000000", family: FONT}
});

Plotly.newPlot("chart", traces, layout, {staticPlot: true, displayModeBar: false});
</script>
</body>
</html>
